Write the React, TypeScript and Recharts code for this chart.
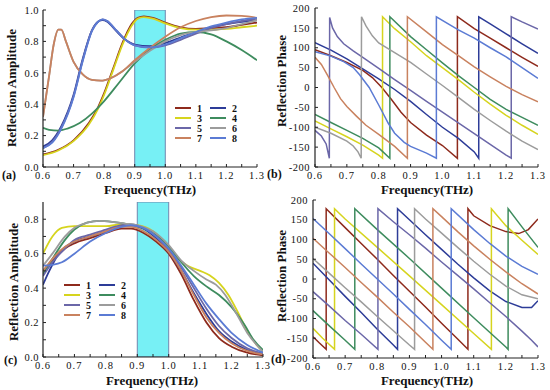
import { LineChart, Line, XAxis, YAxis, ReferenceArea } from "recharts"

type Pair = [number, number]

// colours of the 8 coding units, legend order 1..8
const unitColors = ["#8E2A1C", "#2D3C98", "#D6D41E", "#3E8C5E", "#6B67A8", "#9C9C9C", "#C9825F", "#5B7BD4"]
const unitNames = ["1", "2", "3", "4", "5", "6", "7", "8"]

const freqTicks = [0.6, 0.65, 0.7, 0.75, 0.8, 0.85, 0.9, 0.95, 1.0, 1.05, 1.1, 1.15, 1.2, 1.25, 1.3]
const ampTicksA = [0, 0.1, 0.2, 0.3, 0.4, 0.5, 0.6, 0.7, 0.8, 0.9, 1.0]
const ampTicksC = [0, 0.1, 0.2, 0.3, 0.4, 0.5, 0.6, 0.7, 0.8]
const phaseTicks = [-200, -150, -100, -50, 0, 50, 100, 150, 200]

// (a) reflection amplitude
const ampA1: Pair[] = [[0.6, 0.08], [0.65, 0.11], [0.7, 0.17], [0.75, 0.28], [0.78, 0.38], [0.8, 0.47], [0.83, 0.63], [0.86, 0.79], [0.89, 0.91], [0.91, 0.95], [0.93, 0.96], [0.96, 0.95], [1.0, 0.92], [1.05, 0.89], [1.1, 0.88], [1.15, 0.885], [1.2, 0.89], [1.25, 0.905], [1.3, 0.92]]
const ampA2: Pair[] = [[0.6, 0.13], [0.63, 0.17], [0.66, 0.26], [0.7, 0.46], [0.73, 0.69], [0.76, 0.87], [0.78, 0.925], [0.795, 0.935], [0.81, 0.925], [0.84, 0.865], [0.87, 0.81], [0.9, 0.78], [0.95, 0.77], [1.0, 0.79], [1.05, 0.825], [1.1, 0.86], [1.15, 0.89], [1.2, 0.91], [1.25, 0.925], [1.3, 0.935]]
const ampA3: Pair[] = [[0.6, 0.075], [0.65, 0.105], [0.7, 0.165], [0.75, 0.27], [0.78, 0.37], [0.8, 0.46], [0.83, 0.62], [0.86, 0.78], [0.89, 0.9], [0.91, 0.945], [0.93, 0.955], [0.96, 0.945], [1.0, 0.915], [1.05, 0.885], [1.1, 0.875], [1.15, 0.875], [1.2, 0.88], [1.25, 0.89], [1.3, 0.9]]
const ampA4: Pair[] = [[0.6, 0.25], [0.62, 0.237], [0.65, 0.232], [0.68, 0.245], [0.72, 0.28], [0.76, 0.34], [0.8, 0.42], [0.85, 0.54], [0.9, 0.66], [0.95, 0.75], [1.0, 0.81], [1.05, 0.85], [1.1, 0.86], [1.15, 0.845], [1.2, 0.8], [1.25, 0.745], [1.3, 0.68]]
const ampA5: Pair[] = [[0.6, 0.12], [0.63, 0.16], [0.66, 0.25], [0.7, 0.45], [0.73, 0.68], [0.76, 0.87], [0.78, 0.925], [0.795, 0.94], [0.81, 0.93], [0.84, 0.87], [0.87, 0.81], [0.9, 0.775], [0.95, 0.76], [1.0, 0.775], [1.05, 0.81], [1.1, 0.85], [1.15, 0.885], [1.2, 0.91], [1.25, 0.93], [1.3, 0.945]]
const ampA6: Pair[] = [[0.6, 0.32], [0.62, 0.58], [0.635, 0.78], [0.65, 0.875], [0.66, 0.875], [0.675, 0.8], [0.7, 0.67], [0.73, 0.59], [0.76, 0.555], [0.79, 0.55], [0.82, 0.565], [0.86, 0.61], [0.9, 0.67], [0.95, 0.74], [1.0, 0.8], [1.05, 0.84], [1.1, 0.86], [1.15, 0.87], [1.2, 0.885], [1.25, 0.91], [1.3, 0.935]]
const ampA7: Pair[] = [[0.6, 0.32], [0.62, 0.58], [0.635, 0.78], [0.65, 0.875], [0.66, 0.875], [0.675, 0.8], [0.7, 0.67], [0.73, 0.59], [0.76, 0.555], [0.79, 0.55], [0.82, 0.565], [0.86, 0.61], [0.9, 0.68], [0.95, 0.76], [1.0, 0.83], [1.05, 0.89], [1.1, 0.93], [1.15, 0.955], [1.2, 0.965], [1.25, 0.962], [1.3, 0.95]]
const ampA8: Pair[] = [[0.6, 0.12], [0.63, 0.155], [0.66, 0.245], [0.7, 0.445], [0.73, 0.675], [0.76, 0.865], [0.78, 0.925], [0.795, 0.94], [0.81, 0.93], [0.84, 0.87], [0.87, 0.81], [0.9, 0.775], [0.95, 0.762], [1.0, 0.78], [1.05, 0.82], [1.1, 0.86], [1.15, 0.895], [1.2, 0.92], [1.25, 0.94], [1.3, 0.95]]

// (b) reflection phase
const phB1: Pair[] = [[0.6, 95], [0.65, 80], [0.7, 63], [0.75, 43], [0.78, 25], [0.81, 0], [0.84, -30], [0.87, -62], [0.9, -88], [0.95, -120], [1.0, -146], [1.047, -178], [1.047, 178], [1.1, 148], [1.15, 124], [1.2, 100], [1.25, 76], [1.3, 53]]
const phB2: Pair[] = [[0.6, 113], [0.65, 94], [0.7, 72], [0.75, 47], [0.8, 22], [0.85, -5], [0.9, -35], [0.95, -68], [1.0, -100], [1.05, -128], [1.1, -162], [1.114, -178], [1.114, 178], [1.15, 160], [1.2, 135], [1.25, 110], [1.3, 86]]
const phB3: Pair[] = [[0.6, -84], [0.65, -104], [0.7, -124], [0.75, -145], [0.8, -170], [0.812, -178], [0.812, 178], [0.85, 148], [0.9, 115], [0.95, 80], [1.0, 50], [1.05, 20], [1.1, -12], [1.15, -42], [1.2, -70], [1.25, -95], [1.3, -118]]
const phB4: Pair[] = [[0.6, -68], [0.65, -88], [0.7, -108], [0.75, -128], [0.8, -152], [0.835, -178], [0.835, 178], [0.9, 128], [0.95, 95], [1.0, 62], [1.05, 30], [1.1, 0], [1.15, -30], [1.2, -55], [1.25, -75], [1.3, -95]]
const phB5: Pair[] = [[0.6, -108], [0.62, -122], [0.635, -142], [0.645, -178], [0.646, 176], [0.655, 150], [0.67, 128], [0.69, 110], [0.72, 92], [0.75, 76], [0.8, 48], [0.85, 20], [0.9, -7], [0.95, -35], [1.0, -62], [1.05, -89], [1.1, -116], [1.15, -143], [1.2, -170], [1.216, -178], [1.216, 178], [1.25, 165], [1.3, 147]]
const phB6: Pair[] = [[0.6, -100], [0.65, -115], [0.7, -135], [0.72, -147], [0.735, -162], [0.745, -178], [0.746, 178], [0.76, 155], [0.78, 130], [0.8, 112], [0.85, 88], [0.9, 63], [0.95, 34], [1.0, 5], [1.05, -25], [1.1, -55], [1.15, -83], [1.2, -110], [1.25, -135], [1.3, -156]]
const phB7: Pair[] = [[0.6, 76], [0.62, 58], [0.64, 30], [0.66, 0], [0.68, -28], [0.7, -48], [0.73, -72], [0.76, -95], [0.8, -118], [0.85, -148], [0.89, -178], [0.89, 178], [0.95, 140], [1.0, 108], [1.05, 80], [1.1, 52], [1.15, 27], [1.2, 3], [1.25, -18], [1.3, -36]]
const phB8: Pair[] = [[0.6, 90], [0.65, 79], [0.69, 65], [0.72, 50], [0.74, 32], [0.77, 0], [0.8, -44], [0.83, -90], [0.85, -115], [0.88, -138], [0.9, -148], [0.95, -165], [0.981, -178], [0.981, 178], [1.05, 145], [1.1, 124], [1.15, 100], [1.2, 77], [1.25, 50], [1.3, 23]]

// (c) reflection amplitude
const ampC1: Pair[] = [[0.6, 0.5], [0.63, 0.56], [0.67, 0.63], [0.7, 0.66], [0.75, 0.69], [0.8, 0.72], [0.85, 0.745], [0.88, 0.745], [0.92, 0.72], [0.96, 0.67], [1.0, 0.6], [1.04, 0.48], [1.08, 0.33], [1.12, 0.2], [1.16, 0.11], [1.2, 0.06], [1.25, 0.025], [1.3, 0.01]]
const ampC2: Pair[] = [[0.6, 0.42], [0.62, 0.5], [0.65, 0.6], [0.7, 0.67], [0.75, 0.7], [0.8, 0.73], [0.85, 0.76], [0.88, 0.765], [0.92, 0.745], [0.96, 0.69], [1.0, 0.61], [1.04, 0.5], [1.08, 0.37], [1.12, 0.25], [1.16, 0.15], [1.2, 0.09], [1.25, 0.04], [1.3, 0.015]]
const ampC3: Pair[] = [[0.6, 0.6], [0.63, 0.7], [0.66, 0.75], [0.7, 0.76], [0.75, 0.76], [0.8, 0.76], [0.85, 0.77], [0.9, 0.765], [0.95, 0.73], [1.0, 0.64], [1.03, 0.57], [1.06, 0.53], [1.1, 0.5], [1.13, 0.475], [1.16, 0.43], [1.19, 0.36], [1.22, 0.26], [1.25, 0.15], [1.28, 0.07], [1.3, 0.03]]
const ampC4: Pair[] = [[0.6, 0.48], [0.63, 0.57], [0.67, 0.68], [0.7, 0.74], [0.74, 0.78], [0.78, 0.79], [0.82, 0.785], [0.86, 0.775], [0.9, 0.76], [0.95, 0.72], [1.0, 0.64], [1.04, 0.55], [1.08, 0.47], [1.12, 0.41], [1.16, 0.36], [1.2, 0.29], [1.24, 0.19], [1.27, 0.1], [1.3, 0.04]]
const ampC5: Pair[] = [[0.6, 0.47], [0.63, 0.55], [0.67, 0.63], [0.7, 0.68], [0.75, 0.71], [0.8, 0.74], [0.85, 0.765], [0.88, 0.77], [0.92, 0.75], [0.96, 0.7], [1.0, 0.62], [1.04, 0.52], [1.08, 0.4], [1.12, 0.28], [1.16, 0.18], [1.2, 0.11], [1.25, 0.05], [1.3, 0.02]]
const ampC6: Pair[] = [[0.6, 0.53], [0.63, 0.6], [0.67, 0.7], [0.7, 0.75], [0.74, 0.78], [0.78, 0.79], [0.82, 0.785], [0.86, 0.775], [0.9, 0.765], [0.95, 0.73], [1.0, 0.65], [1.04, 0.56], [1.08, 0.5], [1.12, 0.45], [1.15, 0.42], [1.18, 0.36], [1.21, 0.27], [1.25, 0.14], [1.3, 0.03]]
const ampC7: Pair[] = [[0.6, 0.5], [0.63, 0.57], [0.67, 0.64], [0.7, 0.67], [0.75, 0.7], [0.8, 0.73], [0.85, 0.755], [0.88, 0.755], [0.92, 0.73], [0.96, 0.68], [1.0, 0.61], [1.04, 0.5], [1.08, 0.36], [1.12, 0.23], [1.16, 0.14], [1.2, 0.08], [1.25, 0.035], [1.3, 0.015]]
const ampC8: Pair[] = [[0.6, 0.53], [0.63, 0.535], [0.66, 0.55], [0.7, 0.6], [0.75, 0.67], [0.8, 0.72], [0.85, 0.755], [0.88, 0.765], [0.92, 0.75], [0.96, 0.7], [1.0, 0.63], [1.04, 0.53], [1.08, 0.42], [1.12, 0.31], [1.16, 0.22], [1.2, 0.14], [1.25, 0.07], [1.3, 0.025]]

// (d) reflection phase
const phD1: Pair[] = [[0.6, -146], [0.62, -162], [0.641, -178], [0.641, 178], [0.7, 130], [0.75, 90], [0.8, 50], [0.85, 9], [0.9, -31], [0.95, -71], [1.0, -112], [1.05, -152], [1.082, -178], [1.082, 178], [1.1, 160], [1.15, 135], [1.2, 120], [1.24, 115], [1.27, 125], [1.3, 152]]
const phD2: Pair[] = [[0.6, 40], [0.65, -2], [0.7, -44], [0.75, -85], [0.8, -127], [0.85, -167], [0.863, -178], [0.863, 178], [0.9, 150], [0.95, 112], [1.0, 75], [1.05, 38], [1.1, 3], [1.15, -30], [1.2, -57], [1.25, -72], [1.28, -72], [1.3, -55]]
const phD3: Pair[] = [[0.6, -125], [0.63, -150], [0.667, -178], [0.667, 178], [0.7, 152], [0.8, 80], [0.9, 8], [1.0, -65], [1.1, -138], [1.155, -178], [1.155, 178], [1.2, 135], [1.25, 98], [1.3, 62]]
const phD4: Pair[] = [[0.6, -80], [0.65, -118], [0.7, -155], [0.73, -178], [0.73, 178], [0.8, 125], [0.9, 52], [1.0, -23], [1.1, -98], [1.2, -172], [1.207, -178], [1.207, 178], [1.25, 132], [1.3, 80]]
const phD5: Pair[] = [[0.6, -32], [0.65, -68], [0.7, -105], [0.75, -140], [0.802, -178], [0.802, 178], [0.85, 145], [0.9, 112], [0.95, 78], [1.0, 43], [1.05, 9], [1.1, -25], [1.15, -60], [1.2, -95], [1.25, -132], [1.28, -155], [1.3, -172]]
const phD6: Pair[] = [[0.6, 52], [0.65, 15], [0.7, -22], [0.75, -58], [0.8, -95], [0.85, -131], [0.9, -167], [0.916, -178], [0.916, 178], [0.95, 152], [1.0, 116], [1.05, 80], [1.1, 45], [1.15, 12], [1.2, -18], [1.25, -40], [1.3, -50]]
const phD7: Pair[] = [[0.6, 103], [0.65, 66], [0.7, 29], [0.75, -9], [0.8, -46], [0.85, -84], [0.9, -121], [0.95, -160], [0.973, -178], [0.973, 178], [1.0, 158], [1.05, 120], [1.1, 84], [1.15, 50], [1.2, 18], [1.25, -12], [1.3, -38]]
const phD8: Pair[] = [[0.6, 153], [0.65, 115], [0.7, 77], [0.75, 38], [0.8, 0], [0.85, -38], [0.9, -77], [0.95, -115], [1.0, -155], [1.03, -178], [1.03, 178], [1.1, 125], [1.15, 90], [1.2, 58], [1.25, 32], [1.3, 12]]

const serif = "'Liberation Serif', 'Times New Roman', serif"
const xTickStyle = { fill: "#111", fontSize: 10.5, fontFamily: serif, letterSpacing: 1 }
const yTickStyle = { fill: "#111", fontSize: 10.5, fontFamily: serif, letterSpacing: 0.5 }
const axisLine = { stroke: "#222", strokeWidth: 1.2 }

const toPoints = (pairs: Pair[]) => pairs.map(([f, v]) => ({ f, v }))
const freqLabel = (v: number) => (Math.round(v * 100) % 10 === 0 ? v.toFixed(1) : "")

type PanelProps = {
  left: number
  top: number
  margin: { top: number; right: number; bottom: number; left: number }
  yDomain: [number, number]
  yTicks: number[]
  yFmt: (v: number) => string
  series: Pair[][]
  curve: "monotone" | "linear"
  band?: boolean
  yTickMargin: number
}

function Panel({ left, top, margin, yDomain, yTicks, yFmt, series, curve, band, yTickMargin }: PanelProps) {
  return (
    <div style={{ position: "absolute", left, top }}>
      <LineChart width={275} height={195} margin={margin}>
        <XAxis type="number" dataKey="f" domain={[0.6, 1.3]} allowDataOverflow ticks={freqTicks} tickFormatter={freqLabel}
          interval={0} height={20} tickSize={-3} tickMargin={8} tick={xTickStyle} axisLine={axisLine} tickLine={{ stroke: "#222" }} />
        <XAxis xAxisId="top" orientation="top" type="number" dataKey="f" domain={[0.6, 1.3]} allowDataOverflow ticks={freqTicks}
          height={0} tickSize={-3} tick={false} axisLine={axisLine} tickLine={{ stroke: "#222" }} />
        <YAxis type="number" domain={yDomain} allowDataOverflow ticks={yTicks} tickFormatter={yFmt} interval={0} width={30}
          tickSize={-3} tickMargin={yTickMargin} tick={yTickStyle} axisLine={axisLine} tickLine={{ stroke: "#222" }} />
        <YAxis yAxisId="right" orientation="right" type="number" domain={yDomain} allowDataOverflow ticks={yTicks} width={0}
          tickSize={-3} tick={false} axisLine={axisLine} tickLine={{ stroke: "#222" }} />
        {series.map((s, i) => (
          <Line key={i} data={toPoints(s)} dataKey="v" type={curve} stroke={unitColors[i]} strokeWidth={curve === "monotone" ? 1.8 : 1.5}
            dot={false} activeDot={false} isAnimationActive={false} />
        ))}
        {band && (
          <ReferenceArea x1={0.9} x2={1.0} y1={yDomain[0]} y2={yDomain[1]} fill="#1CE6EE" fillOpacity={0.6}
            stroke="#7186AE" strokeWidth={1} ifOverflow="hidden" />
        )}
      </LineChart>
    </div>
  )
}

function UnitLegend({ left, top }: { left: number; top: number }) {
  return (
    <svg style={{ position: "absolute", left, top }} width={70} height={42}>
      {unitNames.map((name, i) => {
        const col = i % 2
        const row = Math.floor(i / 2)
        const x = col * 35
        const y = 5 + row * 10
        return (
          <g key={name}>
            <line x1={x} x2={x + 16} y1={y} y2={y} stroke={unitColors[i]} strokeWidth={2} />
            <text x={x + 22} y={y + 3.5} fontSize={10} fontWeight="bold" fontFamily={serif} fill="#111">{name}</text>
          </g>
        )
      })}
    </svg>
  )
}

const titleStyle = { position: "absolute" as const, fontFamily: serif, fontWeight: "bold" as const, fontSize: 13, color: "#111", whiteSpace: "nowrap" as const, lineHeight: "14px" }

function XTitle({ cx, cy }: { cx: number; cy: number }) {
  return <div style={{ ...titleStyle, left: cx, top: cy, transform: "translate(-50%, -50%)" }}>Frequency(THz)</div>
}

function YTitle({ cx, cy, text }: { cx: number; cy: number; text: string }) {
  return <div style={{ ...titleStyle, left: cx, top: cy, transform: "translate(-50%, -50%) rotate(-90deg)" }}>{text}</div>
}

function Tag({ x, y, text }: { x: number; y: number; text: string }) {
  return <div style={{ ...titleStyle, left: x, top: y, transform: "translateY(-50%)", fontSize: 12 }}>{text}</div>
}

export default function App() {
  const amp = (v: number) => (Math.round(v * 10) % 2 === 0 ? v.toFixed(1) : "")
  const ph = (v: number) => String(v)
  return (
    <div style={{ position: "absolute", left: 0, top: 0, width: 550, height: 390, background: "#fff", overflow: "hidden" }}>
      <Panel left={0} top={0} margin={{ top: 10, right: 18, bottom: 8, left: 13 }} yDomain={[0, 1]} yTicks={ampTicksA} yFmt={amp}
        series={[ampA1, ampA2, ampA3, ampA4, ampA5, ampA6, ampA7, ampA8]} curve="monotone" band yTickMargin={7} />
      <Panel left={275} top={0} margin={{ top: 8, right: 12, bottom: 8, left: 10 }} yDomain={[-200, 200]} yTicks={phaseTicks} yFmt={ph}
        series={[phB1, phB2, phB3, phB4, phB5, phB6, phB7, phB8]} curve="linear" yTickMargin={8} />
      <Panel left={0} top={195} margin={{ top: 7, right: 12, bottom: 13, left: 13 }} yDomain={[0, 0.9]} yTicks={ampTicksC} yFmt={amp}
        series={[ampC1, ampC2, ampC3, ampC4, ampC5, ampC6, ampC7, ampC8]} curve="monotone" band yTickMargin={7} />
      <Panel left={275} top={195} margin={{ top: 5, right: 12, bottom: 12, left: 8 }} yDomain={[-200, 200]} yTicks={phaseTicks} yFmt={ph}
        series={[phD1, phD2, phD3, phD4, phD5, phD6, phD7, phD8]} curve="linear" yTickMargin={8} />

      <UnitLegend left={175} top={103} />
      <UnitLegend left={64} top={280} />

      <XTitle cx={150} cy={190} />
      <XTitle cx={427} cy={190} />
      <XTitle cx={152} cy={381} />
      <XTitle cx={427} cy={381} />
      <YTitle cx={12} cy={88} text="Reflection Amplitude" />
      <YTitle cx={282} cy={81} text="Reflection Phase" />
      <YTitle cx={14} cy={282} text="Reflection Amplitude" />
      <YTitle cx={282} cy={276} text="Reflection Phase" />
      <Tag x={2} y={175} text="(a)" />
      <Tag x={267} y={174} text="(b)" />
      <Tag x={4} y={360} text="(c)" />
      <Tag x={271} y={359} text="(d)" />
    </div>
  )
}
